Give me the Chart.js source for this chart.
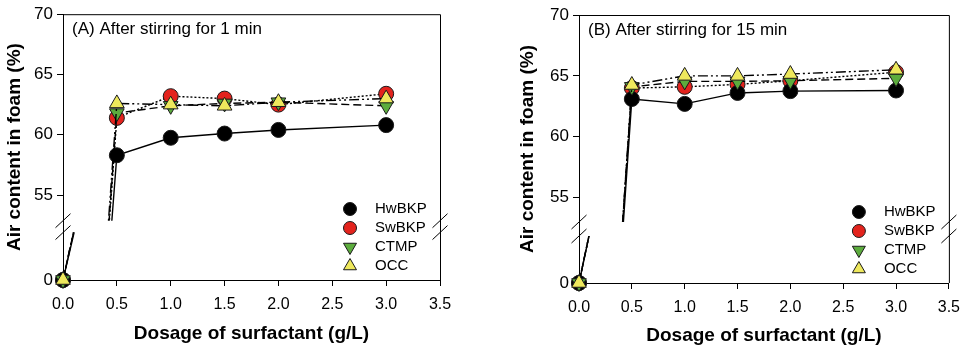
<!DOCTYPE html>
<html>
<head>
<meta charset="utf-8">
<script src="https://cdn.jsdelivr.net/npm/chart.js@4.4.0/dist/chart.umd.min.js"></script>
<style>
  body { margin: 0; background: #fff; width: 969px; height: 351px; overflow: hidden; position: relative; }
  canvas { position: absolute; top: 0; }
  #chartA { left: 0; }
  #chartB { left: 480px; }
</style>
</head>
<body>
<canvas id="chartA" width="480" height="351"></canvas>
<canvas id="chartB" width="489" height="351"></canvas>
<script>
// Dosage of surfactant (g/L)
const dosage = [0, 0.5, 1.0, 1.5, 2.0, 3.0];
const pulps = ['HwBKP', 'SwBKP', 'CTMP', 'OCC'];

// (A) after stirring for 1 min, air content (%)
const hwA  = [0, 58.3, 59.75, 60.1, 60.4, 60.8];
const swA  = [0, 61.4, 63.2, 63.0, 62.5, 63.4];
const ctA  = [0, 61.8, 62.4, 62.6, 62.7, 62.4];
const occA = [0, 62.6, 62.5, 62.4, 62.7, 63.0];

// (B) after stirring for 15 min
const hwB  = [0, 63.1, 62.7, 63.6, 63.75, 63.8];
const swB  = [0, 64.0, 64.1, 64.3, 64.6, 65.3];
const ctB  = [0, 64.1, 64.55, 64.55, 64.6, 64.8];
const occB = [0, 64.25, 65.0, 65.0, 65.15, 65.5];

// tick labels
const xTicks = [0, 0.5, 1.0, 1.5, 2.0, 2.5, 3.0, 3.5];
const yTicksTop = [55, 60, 65, 70];
const yTicksBottom = [0];

const FONT = "'Liberation Sans', Arial, sans-serif";

// marker / line style per pulp
const styles = [
  { pointStyle: 'circle',   rotation: 0,   fill: '#000000', dash: [],                 order: 2, r: 7.5, lr: 6.5 },
  { pointStyle: 'circle',   rotation: 0,   fill: '#e3231d', dash: [2, 2],             order: 3, r: 7.5, lr: 6.5 },
  { pointStyle: 'triangle', rotation: 180, fill: '#5cac3d', dash: [8, 4],             order: 1, r: 8.5, lr: 7.5 },
  { pointStyle: 'triangle', rotation: 0,   fill: '#eee85c', dash: [10, 3, 2, 3, 2, 3], order: 0, r: 8.5, lr: 7.5 }
];

function makeDatasets(series) {
  const out = [];
  series.forEach((vals, i) => {
    const st = styles[i];
    ['yTop', 'yBot'].forEach(axis => {
      out.push({
        label: pulps[i],
        yAxisID: axis,
        data: dosage.map((d, j) => ({ x: d, y: vals[j] })),
        borderColor: '#000',
        borderWidth: 1.4,
        borderDash: st.dash,
        backgroundColor: st.fill,
        pointStyle: st.pointStyle,
        pointRotation: st.rotation,
        pointRadius: st.r,
        pointBackgroundColor: st.fill,
        pointBorderColor: '#1a1a1a',
        pointBorderWidth: 1,
        tension: 0,
        clip: false,
        order: st.order
      });
    });
  });
  return out;
}

// clip each dataset to its own segment of the broken y axis
const axisClip = {
  id: 'axisClip',
  beforeDatasetDraw(chart, args) {
    const ys = args.meta.yScale, ca = chart.chartArea, ctx = chart.ctx;
    const top = ys.id === 'yTop' ? ys.top - 12 : ys.top;
    const bottom = ys.id === 'yBot' ? ys.bottom + 12 : ys.bottom;
    ctx.save();
    ctx.beginPath();
    ctx.rect(ca.left - 12, top, ca.right - ca.left + 24, bottom - top);
    ctx.clip();
  },
  afterDatasetDraw(chart) {
    chart.ctx.restore();
  }
};

function decorPlugin(p) {
  return {
    id: 'decor',
    afterDraw(chart) {
      const ctx = chart.ctx, ca = chart.chartArea;
      const yTop = chart.scales.yTop, yBot = chart.scales.yBot;
      ctx.save();
      // frame: top and right
      ctx.strokeStyle = '#000';
      ctx.lineWidth = 1;
      ctx.beginPath();
      ctx.moveTo(ca.left, ca.top + 0.5);
      ctx.lineTo(ca.right + 0.5, ca.top + 0.5);
      ctx.lineTo(ca.right + 0.5, ca.bottom);
      ctx.stroke();
      // break marks
      [ca.left, ca.right].forEach(x => {
        [yTop.bottom, yBot.top].forEach(y => {
          ctx.beginPath();
          ctx.moveTo(x - 7.5, y + 7);
          ctx.lineTo(x + 7.5, y - 7);
          ctx.stroke();
        });
      });
      // y axis title
      ctx.fillStyle = '#000';
      ctx.font = 'bold 19px ' + FONT;
      ctx.textAlign = 'center';
      ctx.textBaseline = 'middle';
      ctx.translate(p.yTitleX, (ca.top + ca.bottom) / 2);
      ctx.rotate(-Math.PI / 2);
      ctx.fillText('Air content in foam (%)', 0, 0);
      ctx.restore();

      ctx.save();
      // panel label
      ctx.fillStyle = '#000';
      ctx.font = '17px ' + FONT;
      ctx.textAlign = 'left';
      ctx.textBaseline = 'middle';
      ctx.fillText(p.label, ca.left + 9, ca.top + 15);
      // legend
      ctx.font = '15px ' + FONT;
      const sets = chart.data.datasets.filter(d => d.yAxisID === 'yTop');
      sets.forEach((ds, i) => {
        const y = ca.bottom - 71 + i * 19;
        const mx = ca.right - 90;
        ctx.fillStyle = ds.pointBackgroundColor;
        ctx.strokeStyle = ds.pointBorderColor;
        ctx.lineWidth = 1;
        ctx.setLineDash([]);
        Chart.helpers.drawPoint(ctx, {
          pointStyle: ds.pointStyle, rotation: ds.pointRotation,
          radius: styles[i].lr, borderWidth: 1
        }, mx, y);
        ctx.fillStyle = '#000';
        ctx.fillText(ds.label, ca.right - 65, y);
      });
      ctx.restore();
    }
  };
}

function panelOptions(p) {
  const fixW = s => { s.width = p.axisW; };
  const xFont = { family: FONT, size: 16 };
  const yFont = { family: FONT, size: 17 };
  const axisGrid = { display: true, drawOnChartArea: false, drawTicks: true, tickLength: 6, color: '#000', lineWidth: 1 };
  const axisBorder = { display: true, color: '#000', width: 1 };
  return {
    responsive: false,
    animation: false,
    events: [],
    layout: { padding: { left: 0, top: p.top, right: p.right, bottom: 0 } },
    plugins: { legend: { display: false }, tooltip: { enabled: false } },
    scales: {
      x: {
        type: 'linear', position: 'bottom', min: 0, max: 3.5,
        afterBuildTicks: s => { s.ticks = xTicks.map(v => ({ value: v })); },
        afterFit: s => { s.height = p.xAxisH; },
        grid: axisGrid, border: axisBorder,
        ticks: { font: xFont, color: '#000', padding: 9, maxRotation: 0, callback: v => Number(v).toFixed(1) },
        title: {
          display: true, text: 'Dosage of surfactant (g/L)', color: '#000',
          font: { family: FONT, size: 19, weight: 'bold' },
          padding: { top: 0, bottom: p.xTitlePad }
        }
      },
      yBot: {
        type: 'linear', position: 'left', stack: 'y', stackWeight: p.botH,
        min: 0, max: p.botMax,
        afterBuildTicks: s => { s.ticks = yTicksBottom.map(v => ({ value: v })); },
        afterFit: fixW,
        grid: axisGrid, border: axisBorder,
        ticks: { font: yFont, color: '#000', padding: 4 }
      },
      yGap: {
        type: 'linear', position: 'left', stack: 'y', stackWeight: p.gapH,
        min: 0, max: 1,
        afterFit: fixW,
        grid: { display: false }, border: axisBorder,
        ticks: { display: false }
      },
      yTop: {
        type: 'linear', position: 'left', stack: 'y', stackWeight: p.topH,
        min: p.topMin, max: 70,
        afterBuildTicks: s => { s.ticks = yTicksTop.map(v => ({ value: v })); },
        afterFit: fixW,
        grid: axisGrid, border: axisBorder,
        ticks: { font: yFont, color: '#000', padding: 4 }
      }
    }
  };
}

const panelA = { top: 11, right: 40, axisW: 63, xAxisH: 71, xTitlePad: 6, topH: 209, gapH: 12, botH: 48,
                 topMin: 52.87, botMax: 12, yTitleX: 15, label: '(A) After stirring for 1 min' };
const panelB = { top: 15, right: 16, axisW: 99, xAxisH: 68, xTitlePad: 4, topH: 207, gapH: 14, botH: 47,
                 topMin: 53.0, botMax: 12, yTitleX: 48, label: '(B) After stirring for 15 min' };

new Chart(document.getElementById('chartA'), {
  type: 'line',
  data: { datasets: makeDatasets([hwA, swA, ctA, occA]) },
  options: panelOptions(panelA),
  plugins: [axisClip, decorPlugin(panelA)]
});

new Chart(document.getElementById('chartB'), {
  type: 'line',
  data: { datasets: makeDatasets([hwB, swB, ctB, occB]) },
  options: panelOptions(panelB),
  plugins: [axisClip, decorPlugin(panelB)]
});
</script>
</body>
</html>
